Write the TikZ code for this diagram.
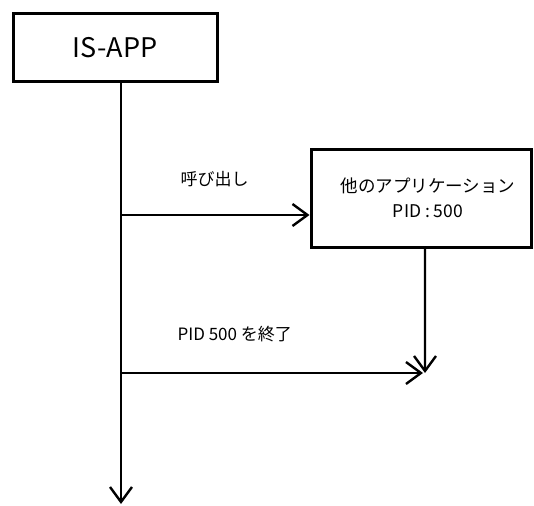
\documentclass[tikz,border=0pt]{standalone}
\usepackage{fontspec}
\setmainfont{Noto Sans CJK JP}
\usepackage{tikz}
\usetikzlibrary{positioning,arrows.meta,calc}

\begin{document}
\begin{tikzpicture}[
  x=1pt, y=-1pt,
  >={Straight Barb[length=15pt,width=22pt,line width=2.4pt]},
  appbox/.style={
    draw=black, line width=3pt, fill=white, align=center,
    inner sep=0pt
  },
  msg/.style={draw=black, line width=2.4pt},
  msglabel/.style={font=\fontsize{17}{20}\selectfont, anchor=west},
]
\useasboundingbox (0,0) rectangle (534,505);

% ---------- Boxes ----------
\node[appbox, minimum width=204pt, minimum height=68pt,
      font=\fontsize{27}{30}\selectfont] (isapp) at (115,48) {IS-APP};
\node[appbox, minimum width=220pt, minimum height=98pt,
      font=\fontsize{17.5}{25}\selectfont] (other) at (421,198)
      {\hspace*{14pt}他のアプリケーション\\\hspace*{14pt}PID : 500};

% ---------- Lifeline ----------
\coordinate (lifetop) at (121,82);
\coordinate (lifeend) at (121,504);
\coordinate (call)    at (121,215);
\coordinate (kill)    at (121,373);
\coordinate (otherend) at (425,373);

\draw[msg, ->] (lifetop) -- (lifeend);

% ---------- Messages ----------
\draw[msg, ->] (call) -- (other.west |- call);
\node[msglabel] (calllabel) at (177,179) {呼び出し};

\draw[msg, ->] ($(other.south west)!0.518!(other.south east)$) -- (otherend);
\draw[msg, ->] (kill) -- ($(otherend)+(-2,0)$);
\node[msglabel] (killlabel) at (174,334) {PID 500 を終了};

\end{tikzpicture}
\end{document}
